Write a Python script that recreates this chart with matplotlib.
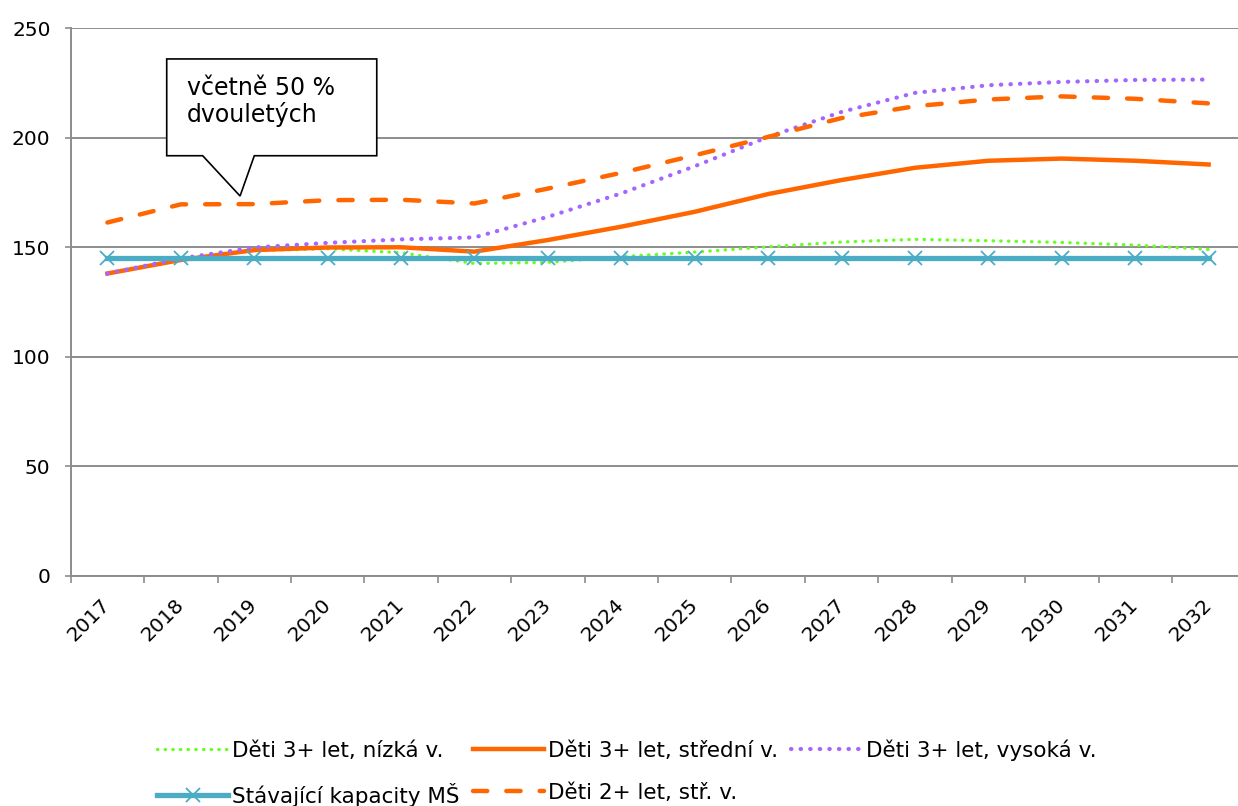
import matplotlib
matplotlib.use("Agg")
import matplotlib.pyplot as plt
from matplotlib.patches import Polygon
from matplotlib.ticker import FixedLocator

# data
roky = [str(r) for r in range(2017, 2033)]
deti3_nizka = [138.0, 144.5, 148.5, 149.3, 147.5, 142.6, 143.1, 145.7,
               147.8, 150.2, 152.4, 153.6, 153.0, 152.2, 151.0, 149.0]
deti3_stredni = [138.0, 144.2, 148.7, 149.9, 150.0, 148.0, 153.3, 159.4,
                 166.2, 174.3, 180.7, 186.3, 189.5, 190.5, 189.5, 187.8]
deti3_vysoka = [138.0, 144.9, 149.9, 152.0, 153.6, 154.5, 163.9, 174.6,
                187.0, 200.4, 211.8, 220.5, 224.0, 225.5, 226.4, 226.6]
kapacity_ms = [145.0] * 16
deti2_stredni = [161.3, 169.6, 169.7, 171.5, 171.7, 170.0, 176.8, 184.0,
                 192.0, 200.4, 209.0, 214.4, 217.5, 218.9, 217.8, 215.7]
y_ticks = [0, 50, 100, 150, 200, 250]

GRID = "#8c8c8c"
ORANGE = "#ff6600"

fig = plt.figure(figsize=(12.38, 8.06), dpi=100)
ax = fig.add_axes([0.0571, 0.2857, 0.9429, 0.6792])

x = list(range(len(roky)))

l_niz, = ax.plot(x, deti3_nizka, color="#66ff22", lw=2.4,
                 dashes=(0.1, 2.2), dash_capstyle="round",
                 label="Děti 3+ let, nízká v.", zorder=3)
l_kap, = ax.plot(x, kapacity_ms, color="#4bacc6", lw=3.8, marker="x",
                 markersize=10, markeredgewidth=1.3,
                 label="Stávající kapacity MŠ", zorder=4)
l_str, = ax.plot(x, deti3_stredni, color=ORANGE, lw=3.2,
                 solid_joinstyle="round", label="Děti 3+ let, střední v.", zorder=3)
l_vys, = ax.plot(x, deti3_vysoka, color="#a366ff", lw=3.0,
                 dashes=(0.1, 2.2), dash_capstyle="round",
                 label="Děti 3+ let, vysoká v.", zorder=3)
l_d2, = ax.plot(x, deti2_stredni, color=ORANGE, lw=3.2,
                dashes=(3.2, 4.3), dash_capstyle="round",
                label="Děti 2+ let, stř. v.", zorder=3)

ax.set_xlim(-0.5, 15.40)
ax.set_ylim(0, 250)
ax.set_yticks(y_ticks)
ax.yaxis.grid(True, color=GRID, lw=1.4)
ax.set_axisbelow(True)

for side in ("top", "right"):
    ax.spines[side].set_visible(False)
for side in ("left", "bottom"):
    ax.spines[side].set_color(GRID)
    ax.spines[side].set_linewidth(1.4)

ax.tick_params(axis="y", length=4.5, width=1.2, color=GRID, pad=10,
               labelsize=14.5)
ax.set_xticks(x)
ax.set_xticklabels(roky, rotation=45, ha="right", va="center",
                   rotation_mode="anchor")
ax.tick_params(axis="x", which="major", length=0, pad=19, labelsize=14.5)
ax.xaxis.set_minor_locator(FixedLocator([i - 0.5 for i in range(len(roky) + 1)]))
ax.tick_params(axis="x", which="minor", length=5, width=1.2, color=GRID)

# callout
callout = Polygon([(0.808, 236.0), (3.669, 236.0), (3.669, 191.8),
                   (2.001, 191.8), (1.807, 173.4), (1.298, 191.8),
                   (0.808, 191.8)],
                  closed=True, facecolor="white", edgecolor="black",
                  lw=1.2, zorder=5)
ax.add_patch(callout)
ax.text(1.085, 216.5, "včetně 50 %\ndvouletých", fontsize=17,
        va="center", ha="left", linespacing=1.1, zorder=6)

fig.legend(handles=[l_niz, l_kap, l_str, l_d2, l_vys], ncol=3,
           loc="center left", bbox_to_anchor=(157 / 1238, 1 - 773 / 806),
           frameon=False, fontsize=15.5, handlelength=3.3, handletextpad=0.2,
           columnspacing=0.6, labelspacing=1.0, borderpad=0,
           borderaxespad=0)

fig.savefig("out.png", dpi=100)
